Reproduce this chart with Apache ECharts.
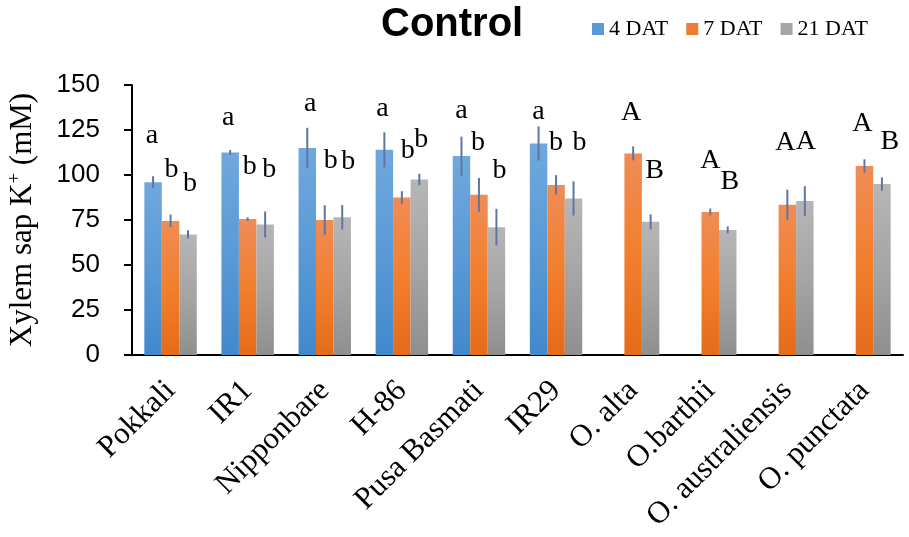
<!DOCTYPE html>
<html>
<head>
<meta charset="utf-8">
<script src="https://cdn.jsdelivr.net/npm/echarts@6/dist/echarts.min.js"></script>
<style>
  html, body { margin: 0; padding: 0; background: #fff; }
  #chart { width: 909px; height: 537px; }
</style>
</head>
<body>
<div id="chart"></div>
<script>
// Rice genotypes and wild Oryza species
const categories = ['Pokkali', 'IR1', 'Nipponbare', 'H-86', 'Pusa Basmati', 'IR29',
  'O. alta', 'O.barthii', 'O. australiensis', 'O. punctata'];
const seriesNames = ['4 DAT', '7 DAT', '21 DAT'];

// Xylem sap K+ (mM), mean values
const dat4 = [96, 112.5, 115, 114, 110.5, 117.5, null, null, null, null];
const dat7 = [74.5, 75.5, 75, 87.5, 89, 94.5, 112, 79.5, 83.5, 105];
const dat21 = [67, 72.5, 76.5, 97.5, 71, 87, 74, 69.5, 85.5, 95];

// Standard errors
const err4 = [3.3, 1.4, 11.2, 9.7, 10.8, 9.5, null, null, null, null];
const err7 = [3.5, 1, 8.2, 3.5, 9.4, 5.4, 3.9, 1.9, 8.4, 3.7];
const err21 = [2.3, 7.2, 6.8, 3.2, 10.2, 9.5, 4.1, 1.9, 8.3, 3.7];

// Significance letters
const letters4 = ['a', 'a', 'a', 'a', 'a', 'a', '', '', '', ''];
const letters7 = ['b', 'b', 'b', 'b', 'b', 'b', 'A', 'A', 'A', 'A'];
const letters21 = ['b', 'b', 'b', 'b', 'b', 'b', 'B', 'B', 'A', 'B'];

// Value-axis ticks
const yMin = 0, yMax = 150, yStep = 25;

// Letter placement tweaks [dx, dy] in pixels, relative to the bar top
const letterShift = [
  [[-1, -31], [-2, -19], [3, -28], [-2, -25], [0, -29], [0, -16], [0, 0], [0, 0], [0, 0], [0, 0]],
  [[1, -35], [2, -36], [6, -43], [6, -31], [-1, -36], [0, -26], [-2, -25], [0, -35], [-2, -46], [-2, -26]],
  [[2, -35], [4, -39], [6, -40], [2, -24], [3, -41], [6, -40], [4, -35], [2, -32], [1, -43], [8, -26]]
];

const values = [dat4, dat7, dat21];
const errors = [err4, err7, err21];
const letters = [letters4, letters7, letters21];

const gradients = [
  ['#70a8de', '#5a9ad6', '#4189cc'],
  ['#f08c56', '#f27f2e', '#e56b1a'],
  ['#b6b6b6', '#a5a5a5', '#8f8f8f']
];
const legendColors = ['#5b9bd5', '#ed7d31', '#a5a5a5'];

const CAT_GAP = 0.32;
const serif = '"Liberation Serif", "Times New Roman", serif';
const sans = '"Liberation Sans", Arial, sans-serif';

function grad(stops) {
  return new echarts.graphic.LinearGradient(0, 0, 0, 1, [
    { offset: 0, color: stops[0] },
    { offset: 0.5, color: stops[1] },
    { offset: 1, color: stops[2] }
  ]);
}

const barSeries = seriesNames.map((name, s) => ({
  name: name,
  type: 'bar',
  barGap: '0%',
  barCategoryGap: (CAT_GAP * 100) + '%',
  itemStyle: { color: grad(gradients[s]) },
  data: values[s].map((v, i) => ({
    value: v,
    label: {
      show: v != null && letters[s][i] !== '',
      position: 'top',
      distance: 2,
      formatter: letters[s][i],
      offset: letterShift[s][i],
      fontFamily: serif,
      fontSize: 28,
      color: '#000'
    }
  }))
}));

// Error bars: one vertical stroke per bar, placed in that bar's slot
const errData = [];
values.forEach((arr, s) => {
  arr.forEach((v, i) => {
    if (v != null && errors[s][i] != null) errData.push([i, v, errors[s][i], s]);
  });
});

const errorSeries = {
  type: 'custom',
  name: 'error',
  silent: true,
  z: 5,
  data: errData,
  encode: { x: 0, y: 1 },
  renderItem: function (params, api) {
    const idx = api.value(0);
    const v = api.value(1);
    const e = api.value(2);
    const slot = api.value(3);
    const band = api.size([1, 0])[0];
    const barW = band * (1 - CAT_GAP) / 3;
    const cx = api.coord([idx, v])[0] + (slot - 1) * barW;
    const yTop = api.coord([idx, v + e])[1];
    const yBot = api.coord([idx, v - e])[1];
    return {
      type: 'line',
      shape: { x1: cx, y1: yTop, x2: cx, y2: yBot },
      style: { stroke: '#5f779f', lineWidth: 2 }
    };
  }
};

const chart = echarts.init(document.getElementById('chart'), null, { renderer: 'canvas' });
chart.setOption({
  animation: false,
  backgroundColor: '#fff',
  title: {
    text: 'Control',
    left: 376,
    top: 0,
    textStyle: { fontFamily: sans, fontWeight: 'bold', fontSize: 40, color: '#000' }
  },
  legend: {
    data: seriesNames.map((n, s) => ({ name: n, itemStyle: { color: legendColors[s] } })),
    left: 587,
    top: 13,
    itemWidth: 12,
    itemHeight: 12,
    itemGap: 18,
    icon: 'rect',
    textStyle: { fontFamily: serif, fontSize: 22, color: '#000' }
  },
  grid: { left: 132, right: 6, top: 85, bottom: 182, containLabel: false, outerBoundsMode: 'none' },
  xAxis: {
    type: 'category',
    data: categories,
    axisLine: { lineStyle: { color: '#000', width: 2 } },
    axisTick: { alignWithLabel: true, length: 7, lineStyle: { color: '#000', width: 2 } },
    axisLabel: {
      rotate: 45,
      interval: 0,
      margin: 31,
      fontFamily: serif,
      fontSize: 31,
      color: '#000'
    }
  },
  yAxis: {
    type: 'value',
    min: yMin,
    max: yMax,
    interval: yStep,
    name: 'Xylem sap K{sup|+} (mM)',
    nameLocation: 'middle',
    nameGap: 92,
    nameTextStyle: {
      fontFamily: serif,
      fontSize: 31,
      color: '#000',
      rich: {
        sup: { fontFamily: serif, fontSize: 19, color: '#000', padding: [0, 0, 15, 0] }
      }
    },
    splitLine: { show: false },
    axisLine: { show: true, lineStyle: { color: '#000', width: 2 } },
    axisTick: { show: true, length: 8, lineStyle: { color: '#000', width: 2 } },
    axisLabel: { margin: 32, fontFamily: sans, fontSize: 26, color: '#000' }
  },
  series: barSeries.concat([errorSeries])
});
</script>
</body>
</html>
